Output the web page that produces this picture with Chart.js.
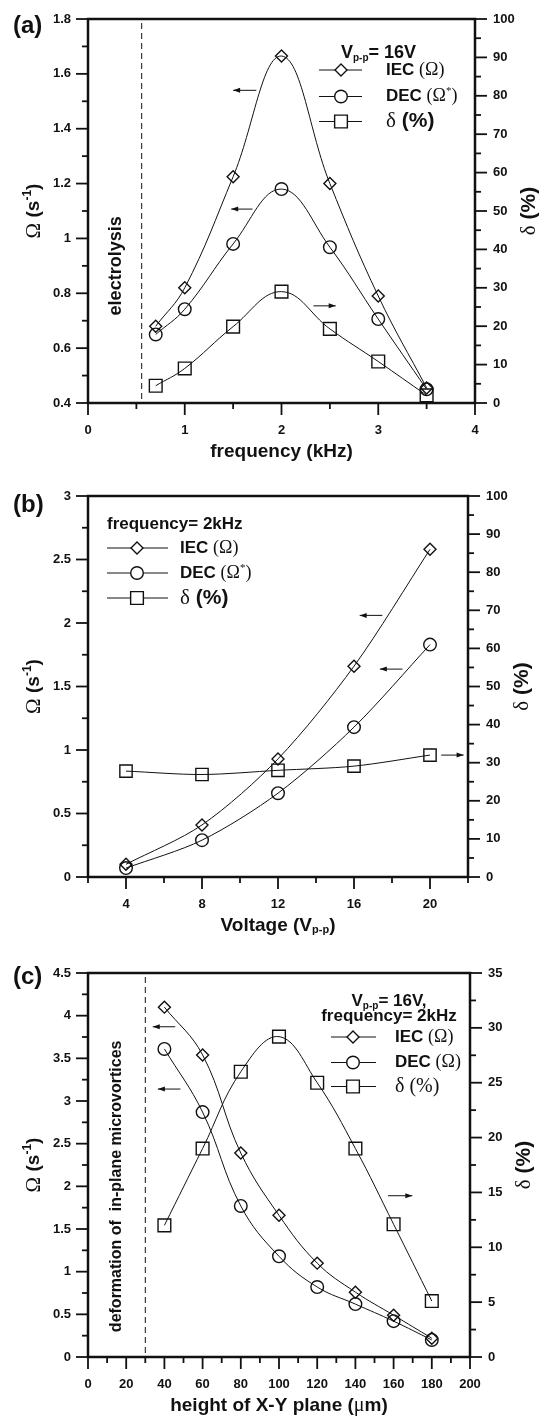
<!DOCTYPE html>
<html>
<head>
<meta charset="utf-8">
<script src="https://cdn.jsdelivr.net/npm/chart.js"></script>
<style>
  body { margin: 0; background: #fff; }
  .box { position: relative; width: 543px; }
  canvas { display: block; }
</style>
</head>
<body>
<div class="box" style="height:470px"><canvas id="chartA"></canvas></div>
<div class="box" style="height:470px"><canvas id="chartB"></canvas></div>
<div class="box" style="height:480px"><canvas id="chartC"></canvas></div>
<script>
// (a) frequency sweep, Vp-p = 16V
const freqKHz = [0.7, 1, 1.5, 2, 2.5, 3, 3.5]
const iecFreq = [0.68, 0.82, 1.225, 1.665, 1.20, 0.79, 0.455]
const decFreq = [0.65, 0.742, 0.98, 1.18, 0.968, 0.706, 0.45]
const deltaFreq = [4.5, 9.0, 19.9, 29.0, 19.3, 10.8, 2.0]

// (b) voltage sweep, 2kHz
const voltage = [4, 8, 12, 16, 20]
const iecVolt = [0.10, 0.41, 0.93, 1.66, 2.58]
const decVolt = [0.07, 0.29, 0.66, 1.18, 1.83]
const deltaVolt = [27.8, 26.9, 28.0, 29.1, 32.0]

// (c) height of X-Y plane
const heightUm = [40, 60, 80, 100, 120, 140, 160, 180]
const iecHeight = [4.10, 3.54, 2.39, 1.66, 1.10, 0.76, 0.49, 0.22]
const decHeight = [3.61, 2.87, 1.77, 1.18, 0.82, 0.62, 0.42, 0.20]
const deltaHeight = [12.0, 19.0, 26.0, 29.2, 25.0, 19.0, 12.1, 5.1]

// tick labels
const freqTicks = [0, 1, 2, 3, 4]
const omegaTicksA = [0.4, 0.6, 0.8, 1, 1.2, 1.4, 1.6, 1.8]
const deltaTicksA = [0, 10, 20, 30, 40, 50, 60, 70, 80, 90, 100]
const voltTicks = [4, 8, 12, 16, 20]
const omegaTicksB = [0, 0.5, 1, 1.5, 2, 2.5, 3]
const deltaTicksB = [0, 10, 20, 30, 40, 50, 60, 70, 80, 90, 100]
const heightTicks = [0, 20, 40, 60, 80, 100, 120, 140, 160, 180, 200]
const omegaTicksC = [0, 0.5, 1, 1.5, 2, 2.5, 3, 3.5, 4, 4.5]
const deltaTicksC = [0, 5, 10, 15, 20, 25, 30, 35]

const INK = '#111'
const SANS = '"Liberation Sans", Arial, Helvetica, sans-serif'
const SERIF = '"Liberation Serif", "Times New Roman", serif'
const b = n => 'bold ' + n + 'px ' + SANS
const r = n => n + 'px ' + SERIF

// text pieces: [text, font, dy]
function drawParts(ctx, parts, x, y, align) {
    let w = 0
    parts.forEach(p => { ctx.font = p[1]; w += ctx.measureText(p[0]).width })
    let cx = align === 'center' ? x - w / 2 : (align === 'right' ? x - w : x)
    ctx.textAlign = 'left'
    parts.forEach(p => {
        ctx.font = p[1]
        ctx.fillText(p[0], cx, y + (p[2] || 0))
        cx += ctx.measureText(p[0]).width
    })
}

function marker(ctx, style, x, y, rad) {
    ctx.beginPath()
    if (style === 'circle') {
        ctx.arc(x, y, rad, 0, Math.PI * 2)
    } else if (style === 'rectRot') {
        ctx.moveTo(x, y - rad); ctx.lineTo(x + rad, y); ctx.lineTo(x, y + rad); ctx.lineTo(x - rad, y); ctx.closePath()
    } else {
        const s = rad * Math.SQRT1_2
        ctx.rect(x - s, y - s, 2 * s, 2 * s)
    }
    ctx.fillStyle = '#fff'
    ctx.fill()
    ctx.stroke()
    ctx.fillStyle = INK
}

function axisTicks(ctx, scale, ax, side, a) {
    ctx.lineWidth = 1.8
    for (let i = 0; ; i++) {
        const v = ax.min + i * ax.minor
        if (v > ax.max + 1e-9) break
        const major = ax.labels.some(l => Math.abs(l - v) < 1e-9)
        const len = major ? 12 : 6
        const p = scale.getPixelForValue(v)
        ctx.beginPath()
        if (side === 'bottom') { ctx.moveTo(p, a.bottom); ctx.lineTo(p, a.bottom + len) }
        else if (side === 'left') { ctx.moveTo(a.left, p); ctx.lineTo(a.left - len, p) }
        else { ctx.moveTo(a.right, p); ctx.lineTo(a.right + len, p) }
        ctx.stroke()
    }
    ctx.font = b(13)
    ax.labels.forEach(v => {
        const p = scale.getPixelForValue(v)
        if (side === 'bottom') { ctx.textAlign = 'center'; ctx.fillText(String(v), p, a.bottom + 27) }
        else if (side === 'left') { ctx.textAlign = 'right'; ctx.fillText(String(v), a.left - 17, p) }
        else { ctx.textAlign = 'left'; ctx.fillText(String(v), a.right + 18, p) }
    })
}

function deco(spec) {
    return {
        id: 'deco' + spec.id,
        afterDatasetsDraw(chart) {
            const ctx = chart.ctx
            const a = chart.chartArea
            const sc = chart.scales
            ctx.save()
            ctx.strokeStyle = INK
            ctx.fillStyle = INK
            ctx.textBaseline = 'middle'

            if (spec.dashX !== undefined) {
                const px = sc.x.getPixelForValue(spec.dashX)
                ctx.lineWidth = 1
                ctx.setLineDash([6, 4])
                ctx.beginPath(); ctx.moveTo(px, a.top + 4); ctx.lineTo(px, a.bottom); ctx.stroke()
                ctx.setLineDash([])
            }

            ctx.lineWidth = 2.5
            ctx.strokeRect(a.left, a.top, a.right - a.left, a.bottom - a.top)
            axisTicks(ctx, sc.x, spec.axes.x, 'bottom', a)
            axisTicks(ctx, sc.y, spec.axes.y, 'left', a)
            axisTicks(ctx, sc.y1, spec.axes.y1, 'right', a)

            // panel label and axis titles
            ctx.font = b(24)
            ctx.textAlign = 'left'
            ctx.fillText(spec.panel, 13, spec.panelY)
            drawParts(ctx, spec.xTitle, (a.left + a.right) / 2, a.bottom + 49, 'center')

            const midY = (a.top + a.bottom) / 2
            ctx.save()
            ctx.translate(34, midY)
            ctx.rotate(-Math.PI / 2)
            drawParts(ctx, [['Ω', r(21)], [' (s', b(19)], ['-1', b(12), -6], [')', b(19)]], 0, 0, 'center')
            ctx.restore()
            ctx.save()
            ctx.translate(a.right + 54, midY)
            ctx.rotate(-Math.PI / 2)
            drawParts(ctx, [['δ', r(21)], [' (%)', b(21)]], 0, 0, 'center')
            ctx.restore()

            // rotated note
            ctx.save()
            ctx.translate(sc.x.getPixelForValue(spec.note.x), sc.y.getPixelForValue(spec.note.y))
            ctx.rotate(-Math.PI / 2)
            ctx.font = spec.note.font
            ctx.textAlign = 'center'
            ctx.fillText(spec.note.text, 0, 0)
            ctx.restore()

            // arrows
            ctx.lineWidth = 1
            spec.arrows.forEach(ar => {
                const x1 = sc.x.getPixelForValue(ar[0])
                const x2 = sc.x.getPixelForValue(ar[1])
                const y = sc[ar[3]].getPixelForValue(ar[2])
                const hx = ar[4] < 0 ? x1 : x2
                ctx.beginPath(); ctx.moveTo(x1, y); ctx.lineTo(x2, y); ctx.stroke()
                ctx.beginPath()
                ctx.moveTo(hx, y); ctx.lineTo(hx - ar[4] * 7, y - 2.5); ctx.lineTo(hx - ar[4] * 7, y + 2.5)
                ctx.closePath(); ctx.fill()
            })

            // legend
            const lg = spec.legend
            lg.head.forEach(h => drawParts(ctx, h.parts, h.x, h.y, h.align))
            lg.rows.forEach(row => {
                ctx.lineWidth = 1
                ctx.beginPath(); ctx.moveTo(lg.x1, row.y); ctx.lineTo(lg.x2, row.y); ctx.stroke()
                ctx.lineWidth = 1.4
                marker(ctx, row.style, lg.mx, row.y, row.rad)
                drawParts(ctx, row.parts, lg.tx, row.y, 'left')
            })
            ctx.restore()
        }
    }
}

function series(xs, ys, axis, style, rad, tension) {
    return {
        data: xs.map((x, i) => ({ x: x, y: ys[i] })),
        yAxisID: axis,
        borderColor: INK,
        borderWidth: 1,
        pointStyle: style,
        pointRadius: rad,
        pointBorderWidth: 1.4,
        pointBorderColor: INK,
        pointBackgroundColor: 'rgba(0,0,0,0)',
        tension: tension,
        fill: false,
        clip: false
    }
}

function makeChart(id, spec) {
    const canvas = document.getElementById(id)
    const W = 543
    const ax = spec.axes
    return new Chart(canvas.getContext('2d'), {
        type: 'line',
        data: { datasets: spec.datasets },
        options: {
            responsive: true,
            maintainAspectRatio: false,
            animation: false,
            devicePixelRatio: 1,
            layout: { padding: { top: spec.area.top, left: 0, right: 0, bottom: 0 } },
            plugins: { legend: { display: false }, tooltip: { enabled: false } },
            scales: {
                x: {
                    type: 'linear', position: 'bottom', min: ax.x.min, max: ax.x.max,
                    ticks: { display: false, stepSize: ax.x.minor },
                    grid: { display: false }, border: { display: false },
                    afterFit: s => { s.height = spec.area.H - spec.area.bottom }
                },
                y: {
                    type: 'linear', position: 'left', min: ax.y.min, max: ax.y.max,
                    ticks: { display: false, stepSize: ax.y.minor },
                    grid: { display: false }, border: { display: false },
                    afterFit: s => { s.width = spec.area.left }
                },
                y1: {
                    type: 'linear', position: 'right', min: ax.y1.min, max: ax.y1.max,
                    ticks: { display: false, stepSize: ax.y1.minor },
                    grid: { display: false }, border: { display: false },
                    afterFit: s => { s.width = W - spec.area.right }
                }
            }
        },
        plugins: [deco(spec)]
    })
}

const vppHead = [['V', b(18)], ['p-p', b(10), 5], ['= 16V', b(18)]]
const iecText = [['IEC ', b(17)], ['(Ω)', r(18)]]
const decStar = [['DEC ', b(17)], ['(Ω', r(18)], ['*', r(11), -5], [')', r(18)]]
const deltaMix = [['δ', r(21)], [' (%)', b(21)]]

makeChart('chartA', {
    id: 'A',
    area: { H: 470, top: 19, bottom: 403, left: 88, right: 475 },
    axes: {
        x: { min: 0, max: 4, minor: 0.5, labels: freqTicks },
        y: { min: 0.4, max: 1.8, minor: 0.1, labels: omegaTicksA },
        y1: { min: 0, max: 100, minor: 5, labels: deltaTicksA }
    },
    datasets: [
        series(freqKHz, iecFreq, 'y', 'rectRot', 6, 0.4),
        series(freqKHz, decFreq, 'y', 'circle', 6.3, 0.4),
        series(freqKHz, deltaFreq, 'y1', 'rect', 9, 0.4)
    ],
    panel: '(a)', panelY: 26,
    xTitle: [['frequency (kHz)', b(19)]],
    dashX: 0.555,
    note: { text: 'electrolysis', x: 0.29, y: 0.9, font: b(18) },
    arrows: [[1.5, 1.74, 1.54, 'y', -1], [1.48, 1.70, 1.107, 'y', -1], [2.33, 2.56, 25.3, 'y1', 1]],
    legend: {
        x1: 319, x2: 362, mx: 341, tx: 386,
        head: [{ parts: vppHead, x: 341, y: 53, align: 'left' }],
        rows: [
            { y: 70, style: 'rectRot', rad: 6, parts: iecText },
            { y: 96.5, style: 'circle', rad: 6.3, parts: decStar },
            { y: 121.5, style: 'rect', rad: 9, parts: deltaMix }
        ]
    }
})

makeChart('chartB', {
    id: 'B',
    area: { H: 470, top: 26, bottom: 407, left: 88, right: 468 },
    axes: {
        x: { min: 2, max: 22, minor: 2, labels: voltTicks },
        y: { min: 0, max: 3, minor: 0.25, labels: omegaTicksB },
        y1: { min: 0, max: 100, minor: 5, labels: deltaTicksB }
    },
    datasets: [
        series(voltage, iecVolt, 'y', 'rectRot', 6, 0.3),
        series(voltage, decVolt, 'y', 'circle', 6.3, 0.3),
        series(voltage, deltaVolt, 'y1', 'rect', 8.7, 0.3)
    ],
    panel: '(b)', panelY: 35,
    xTitle: [['Voltage (V', b(19)], ['p-p', b(11), 4], [')', b(19)]],
    note: { text: '', x: 3, y: 1, font: b(16) },
    arrows: [[16.3, 17.49, 2.06, 'y', -1], [17.36, 18.55, 1.637, 'y', -1], [20.59, 21.77, 32, 'y1', 1]],
    legend: {
        x1: 107, x2: 168, mx: 137, tx: 180,
        head: [{ parts: [['frequency= 2kHz', b(17)]], x: 107, y: 54, align: 'left' }],
        rows: [
            { y: 78, style: 'rectRot', rad: 6, parts: iecText },
            { y: 103, style: 'circle', rad: 6.3, parts: decStar },
            { y: 128, style: 'rect', rad: 9, parts: deltaMix }
        ]
    }
})

makeChart('chartC', {
    id: 'C',
    area: { H: 480, top: 33, bottom: 417, left: 88, right: 470 },
    axes: {
        x: { min: 0, max: 200, minor: 10, labels: heightTicks },
        y: { min: 0, max: 4.5, minor: 0.25, labels: omegaTicksC },
        y1: { min: 0, max: 35, minor: 2.5, labels: deltaTicksC }
    },
    datasets: [
        series(heightUm, iecHeight, 'y', 'rectRot', 6, 0.4),
        series(heightUm, decHeight, 'y', 'circle', 6.3, 0.4),
        series(heightUm, deltaHeight, 'y1', 'rect', 9, 0.4)
    ],
    panel: '(c)', panelY: 37,
    xTitle: [['height of X-Y plane (', b(19)], ['μ', r(20)], ['m)', b(19)]],
    dashX: 30,
    note: { text: 'deformation of  in-plane microvortices', x: 15, y: 2.0, font: b(16) },
    arrows: [[33.9, 45.7, 3.87, 'y', -1], [36.6, 48.4, 3.14, 'y', -1], [157.1, 169.8, 14.7, 'y1', 1]],
    legend: {
        x1: 331, x2: 376, mx: 353, tx: 395,
        head: [
            { parts: [['V', b(17)], ['p-p', b(10), 5], ['= 16V,', b(17)]], x: 389, y: 61, align: 'center' },
            { parts: [['frequency= 2kHz', b(17)]], x: 389, y: 76, align: 'center' }
        ],
        rows: [
            { y: 97, style: 'rectRot', rad: 6, parts: iecText },
            { y: 122.5, style: 'circle', rad: 6.3, parts: [['DEC ', b(17)], ['(Ω)', r(18)]] },
            { y: 146.5, style: 'rect', rad: 9, parts: [['δ (%)', r(20)]] }
        ]
    }
})
</script>
</body>
</html>
